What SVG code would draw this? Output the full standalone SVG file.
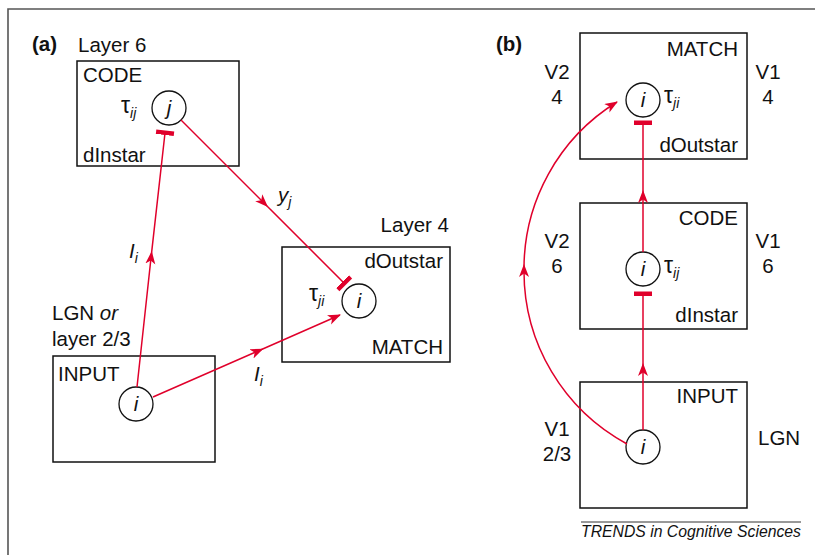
<svg xmlns="http://www.w3.org/2000/svg" width="815" height="555" viewBox="0 0 815 555">
<style>
text{font-family:"Liberation Sans",Arial,sans-serif;font-size:20.5px;fill:#111}
.b{font-weight:bold}
.it{font-style:italic}
.tau{font-size:23px}
.sub{font-size:14px;font-style:italic}
.box{fill:none;stroke:#111;stroke-width:1.5}
.node{fill:#fff;stroke:#111;stroke-width:1.3}
.con{fill:none;stroke:#e0002b;stroke-width:1.5}
.r{text-anchor:end}
.m{text-anchor:middle}
</style>
<defs>
<marker id="arr" markerUnits="userSpaceOnUse" markerWidth="16" markerHeight="12" refX="12" refY="5" orient="auto">
<path d="M0,0 L13,5 L0,10 L3.5,5 Z" fill="#e0002b"/>
</marker>
<marker id="arrm" markerUnits="userSpaceOnUse" markerWidth="16" markerHeight="12" refX="6" refY="5" orient="auto">
<path d="M0,0 L13,5 L0,10 L3.5,5 Z" fill="#e0002b"/>
</marker>
<marker id="bar" markerUnits="userSpaceOnUse" markerWidth="6" markerHeight="20" refX="2" refY="10" orient="auto">
<rect x="0" y="1" width="4.5" height="18" fill="#e0002b"/>
</marker>
</defs>
<rect width="815" height="555" fill="#fff"/>
<path d="M8,555 V9 H815" fill="none" stroke="#555" stroke-width="1.6"/>

<!-- panel a -->
<text class="b" x="32" y="51">(a)</text>
<text x="78" y="52">Layer 6</text>
<text x="449" y="232" class="r">Layer 4</text>
<text x="52" y="320">LGN <tspan class="it">or</tspan></text>
<text x="52" y="346">layer 2/3</text>

<g id="code-a">
<rect class="box" x="77" y="61" width="162" height="105"/>
<text x="83" y="82">CODE</text>
<text x="83" y="162">dInstar</text>
<circle class="node" cx="169" cy="108" r="17"/>
<text class="it m" x="169" y="115">j</text>
<text x="121" y="113"><tspan class="tau">τ</tspan><tspan class="sub" dy="5">ij</tspan></text>
</g>

<g id="match-a">
<rect class="box" x="282" y="247" width="168" height="115"/>
<text class="r" x="443" y="268">dOutstar</text>
<text class="r" x="443" y="354">MATCH</text>
<circle class="node" cx="359" cy="301" r="17"/>
<text class="it m" x="359" y="308">i</text>
<text x="309" y="301"><tspan class="tau">τ</tspan><tspan class="sub" dy="5">ji</tspan></text>
</g>

<g id="input-a">
<rect class="box" x="53" y="356" width="162" height="106"/>
<text x="58" y="381">INPUT</text>
<circle class="node" cx="136" cy="404" r="17"/>
<text class="it m" x="136" y="411">i</text>
</g>

<g id="labels-a">
<text class="it" x="129" y="258">I<tspan class="sub" dy="5">i</tspan></text>
<text class="it" x="278" y="202">y<tspan class="sub" dy="5">j</tspan></text>
<text class="it" x="254" y="381">I<tspan class="sub" dy="5">i</tspan></text>
</g>

<!-- panel b -->
<text class="b" x="496" y="51">(b)</text>

<g id="match-b">
<rect class="box" x="580" y="33" width="167" height="126"/>
<text class="r" x="738" y="56">MATCH</text>
<text class="r" x="738" y="152">dOutstar</text>
<circle class="node" cx="643" cy="100" r="17"/>
<text class="it m" x="643" y="107">i</text>
<text x="664" y="103"><tspan class="tau">τ</tspan><tspan class="sub" dy="5">ji</tspan></text>
<text class="m" x="557" y="79">V2</text>
<text class="m" x="557" y="104">4</text>
<text class="m" x="768" y="79">V1</text>
<text class="m" x="768" y="104">4</text>
</g>

<g id="code-b">
<rect class="box" x="580" y="203" width="167" height="126"/>
<text class="r" x="738" y="225">CODE</text>
<text class="r" x="738" y="322">dInstar</text>
<circle class="node" cx="643" cy="269" r="17"/>
<text class="it m" x="643" y="276">i</text>
<text x="664" y="273"><tspan class="tau">τ</tspan><tspan class="sub" dy="5">ij</tspan></text>
<text class="m" x="557" y="248">V2</text>
<text class="m" x="557" y="273">6</text>
<text class="m" x="768" y="248">V1</text>
<text class="m" x="768" y="273">6</text>
</g>

<g id="input-b">
<rect class="box" x="580" y="382" width="167" height="126"/>
<text class="r" x="738" y="403">INPUT</text>
<circle class="node" cx="643" cy="447" r="17"/>
<text class="it m" x="643" y="454">i</text>
<text class="m" x="557" y="436">V1</text>
<text class="m" x="557" y="461">2/3</text>
<text x="758" y="445">LGN</text>
</g>

<g id="connectors">
<path class="con" d="M137,387 L151,258 L165,133" marker-mid="url(#arrm)" marker-end="url(#bar)"/>
<path class="con" d="M181,120 L263,202 L344,283" marker-mid="url(#arrm)" marker-end="url(#bar)"/>
<path class="con" d="M153,397 L257,351.5 L340,315" marker-mid="url(#arrm)" marker-end="url(#arr)"/>
<path class="con" d="M643,430 L643,370 L643,294" marker-mid="url(#arrm)" marker-end="url(#bar)"/>
<path class="con" d="M643,252 L643,197 L643,123" marker-mid="url(#arrm)" marker-end="url(#bar)"/>
<path class="con" d="M627,444 A196,196 0 0 1 524,271 A196,196 0 0 1 617,102" marker-mid="url(#arrm)" marker-end="url(#arr)"/>
</g>

<g id="footer">
<line x1="581" y1="522" x2="801" y2="522" stroke="#333" stroke-width="1"/>
<text class="it" x="581" y="537" style="font-size:16px" textLength="220" lengthAdjust="spacingAndGlyphs">TRENDS in Cognitive Sciences</text>
</g>
</svg>
